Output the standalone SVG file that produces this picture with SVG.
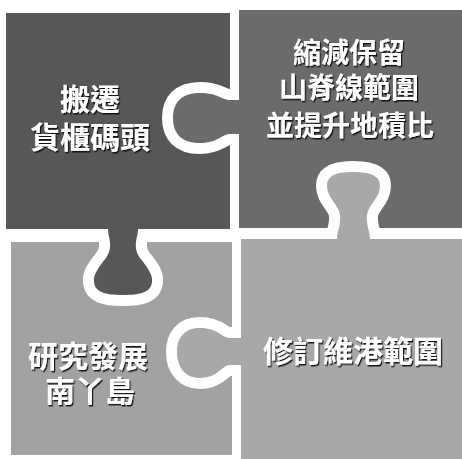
<svg xmlns="http://www.w3.org/2000/svg" width="462" height="459" viewBox="0 0 462 459">
<defs>
<style>
.cut{fill:none;stroke:#ffffff;stroke-width:22;stroke-linecap:butt;stroke-linejoin:round}
.tl{fill:#575757}
.tr{fill:#6b6b6b}
.bl{fill:#a2a2a2}
.br{fill:#a8a8a8}
.lbl{font-family:"Liberation Sans","Noto Sans CJK TC","Noto Sans CJK SC",sans-serif;font-weight:700;fill:#ffffff;text-anchor:middle;filter:url(#sh)}
</style>
<filter id="sh" x="-10%" y="-30%" width="120%" height="160%">
<feDropShadow dx="1.2" dy="1.5" stdDeviation="0.6" flood-color="#111111" flood-opacity="0.95"/>
</filter>
</defs>
<rect x="0" y="0" width="462" height="459" fill="#ffffff"/>
<g id="piece-top-left">
<rect class="tl" x="6" y="13" width="224" height="216"/>
</g>
<g id="piece-top-right">
<rect class="tr" x="239" y="10" width="223" height="218"/>
</g>
<g id="piece-bottom-left">
<rect class="bl" x="11" y="242" width="221" height="213"/>
</g>
<g id="piece-bottom-right">
<rect class="br" x="241" y="239" width="221" height="220"/>
</g>
<g id="connectors">
<path class="cut" d="M239 100 L230 100 C222 100 218 93 200 93 C181 93 173 103 173 118 C173 133 181 143 200 143 C218 143 222 134 230 134 L239 134"/>
<path class="cut" d="M108 229 C108 238 114 246 106 258 C98 268 93 275 94 282 C95 292 105 295 123 295 C141 295 151 292 152 282 C153 275 148 268 140 258 C132 246 138 238 138 229"/>
<path class="cut" d="M337 239 C337 232 341 225 340 215 C339 205 327 198 327 186 C327 176 335 172 353 172 C371 172 380 176 380 186 C380 198 368 205 367 215 C366 225 370 232 370 239"/>
<path class="cut" d="M241 338 L230 338 C222 338 218 328 200 328 C184 328 177 338 177 352 C177 368 186 378 200 378 C218 378 222 365 230 365 L241 365"/>
<path class="tr" d="M239 100 L230 100 C222 100 218 93 200 93 C181 93 173 103 173 118 C173 133 181 143 200 143 C218 143 222 134 230 134 L239 134 Z"/>
<path class="tl" d="M108 229 C108 238 114 246 106 258 C98 268 93 275 94 282 C95 292 105 295 123 295 C141 295 151 292 152 282 C153 275 148 268 140 258 C132 246 138 238 138 229 Z"/>
<path class="br" d="M337 239 C337 232 341 225 340 215 C339 205 327 198 327 186 C327 176 335 172 353 172 C371 172 380 176 380 186 C380 198 368 205 367 215 C366 225 370 232 370 239 Z"/>
<path class="br" d="M241 338 L230 338 C222 338 218 328 200 328 C184 328 177 338 177 352 C177 368 186 378 200 378 C218 378 222 365 230 365 L241 365 Z"/>
</g>
<g id="label-top-left">
<text class="lbl" x="90" y="110" font-size="30">搬遷</text>
<text class="lbl" x="90" y="148" font-size="30">貨櫃碼頭</text>
</g>
<g id="label-top-right">
<text class="lbl" x="349" y="63" font-size="28">縮減保留</text>
<text class="lbl" x="349" y="98" font-size="28">山脊線範圍</text>
<text class="lbl" x="350" y="136" font-size="28">並提升地積比</text>
</g>
<g id="label-bottom-left">
<text class="lbl" x="88" y="367" font-size="30">研究發展</text>
<text class="lbl" x="90" y="402" font-size="30">南丫島</text>
</g>
<g id="label-bottom-right">
<text class="lbl" x="353" y="362" font-size="30">修訂維港範圍</text>
</g>
</svg>
